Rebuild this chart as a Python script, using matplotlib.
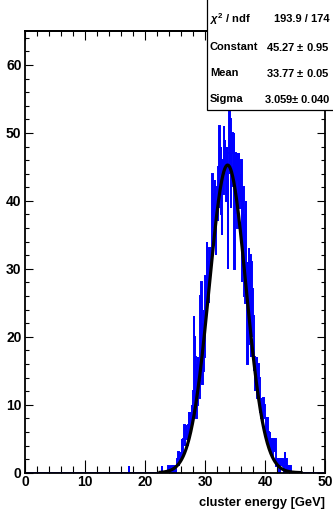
import numpy as np
import matplotlib
matplotlib.use("Agg")
import matplotlib.pyplot as plt
from matplotlib.patches import Rectangle
from matplotlib.ticker import NullFormatter

plt.rcParams['font.family'] = ['Liberation Sans', 'DejaVu Sans']
plt.rcParams['font.weight'] = 'bold'
plt.rcParams['mathtext.fontset'] = 'custom'
plt.rcParams['mathtext.rm'] = 'Liberation Sans:bold'
plt.rcParams['mathtext.it'] = 'Liberation Sans:bold:italic'
plt.rcParams['mathtext.bf'] = 'Liberation Sans:bold'

# histogram: 0.1 GeV bins, contents listed from 17.0 GeV on (one row = 1 GeV)
bin_width = 0.1
hist_start = 17.0
counts = [
    0, 0, 0, 1, 0, 0, 0, 0, 0, 0,            # 17
    0, 0, 0, 0, 0, 0, 0, 0, 0, 0,            # 18
    0, 0, 0, 0, 0, 0, 0, 0, 0, 0,            # 19
    0, 0, 0, 0, 0, 0, 0, 0, 0, 0,            # 20
    0, 0, 0, 0, 0, 0, 0, 0, 0, 0,            # 21
    0, 0, 0, 0, 0, 0, 0, 0, 1, 0,            # 22
    0, 0, 0, 0, 0, 0, 0, 0, 0, 1,            # 23
    0, 1, 0, 0, 1, 1, 0, 1, 0, 1,            # 24
    1, 0, 1, 1, 2, 3, 1, 2, 3, 2,            # 25
    2, 5, 3, 4, 5, 7, 4, 6, 7, 5,            # 26
    6, 4, 7, 9, 6, 8, 9, 7, 10, 9,           # 27
    12, 23, 20, 9, 17, 8, 16, 10, 17, 11,    # 28
    11, 18, 26, 14, 28, 13, 22, 15, 24, 17,  # 29
    29, 23, 26, 34, 27, 31, 25, 33, 28, 30,  # 30
    33, 38, 44, 36, 41, 35, 43, 38, 32, 40,  # 31
    42, 37, 45, 39, 51, 44, 48, 38, 35, 46,  # 32
    41, 51, 44, 49, 46, 40, 48, 43, 30, 47,  # 33
    56, 44, 52, 39, 47, 50, 42, 45, 50, 30,  # 34
    47, 38, 43, 47, 36, 41, 47, 39, 44, 40,  # 35
    46, 28, 40, 30, 42, 26, 38, 25, 40, 29,  # 36
    16, 31, 19, 33, 21, 32, 17, 31, 20, 27,  # 37
    23, 15, 17, 12, 16, 13, 17, 11, 15, 16,  # 38
    14, 12, 9, 11, 8, 10, 7, 11, 9, 10,      # 39
    8, 6, 7, 5, 8, 6, 4, 5, 6, 3,            # 40
    5, 3, 4, 2, 5, 4, 3, 5, 2, 1,            # 41
    2, 1, 2, 1, 0, 2, 1, 2, 1, 2,            # 42
    1, 2, 0, 3, 1, 2, 0, 1, 0, 1,            # 43
    1, 0, 1, 1, 0, 0, 0, 0, 0, 0,            # 44
]

# gaus fit result
fit_const, fit_const_err = 45.27, 0.95
fit_mean, fit_mean_err = 33.77, 0.05
fit_sigma, fit_sigma_err = 3.059, 0.040
chi2, ndf = 193.9, 174
fit_lo, fit_hi = 22.5, 46.0

x_major = [0, 10, 20, 30, 40, 50]
y_major = [0, 10, 20, 30, 40, 50, 60]

stat_labels = [r'$\chi^{2}$ / ndf', 'Constant', 'Mean', 'Sigma']
stat_values = [f'{chi2:.1f} / {ndf}',
               f'{fit_const:.2f} $\\pm$ {fit_const_err:.2f}',
               f'{fit_mean:.2f} $\\pm$ {fit_mean_err:.2f}',
               f'{fit_sigma:.3f}$\\pm$ {fit_sigma_err:.3f}']

W, H = 333, 511
fig = plt.figure(figsize=(W / 100, H / 100), dpi=100)
ax = fig.add_axes([25 / W, 1 - 472.7 / H, 300 / W, (472.7 - 31) / H])

edges = np.linspace(0, 50, 501)
full = np.zeros(500)
i0 = int(round(hist_start / bin_width))
full[i0:i0 + len(counts)] = counts
ax.stairs(full, edges, color='#0000ff', lw=1.4, zorder=2)

xf = np.linspace(fit_lo, fit_hi, 500)
ax.plot(xf, fit_const * np.exp(-0.5 * ((xf - fit_mean) / fit_sigma) ** 2),
        color='black', lw=2.3, zorder=3)

ax.set_xlim(0, 50)
ax.set_ylim(0, 65)
ax.set_xticks(x_major, labels=[str(v) for v in x_major],
              fontweight='bold', fontsize=10)
ax.set_xticks(np.arange(0, 51, 2), minor=True)
ax.set_yticks(y_major, labels=[str(v) for v in y_major],
              fontweight='bold', fontsize=10)
ax.set_yticks(np.arange(0, 65, 2), minor=True)
ax.tick_params(axis='x', which='major', direction='in', length=9.4, width=0.8,
               pad=1.5)
ax.tick_params(axis='x', which='minor', direction='in', length=4.8, width=0.8)
ax.tick_params(axis='y', which='major', direction='in', length=6.1, width=0.8,
               pad=2.5, right=True)
ax.tick_params(axis='y', which='minor', direction='in', length=3.1, width=0.8,
               right=True)

top = ax.secondary_xaxis('top')
top.set_xticks(x_major)
top.set_xticks(np.arange(0, 51, 2), minor=True)
top.xaxis.set_major_formatter(NullFormatter())
top.tick_params(which='major', direction='in', length=6.8, width=0.8)
top.tick_params(which='minor', direction='in', length=3.4, width=0.8)
top.spines['top'].set_linewidth(1.3)

for s in ax.spines.values():
    s.set_linewidth(1.3)
    s.set_zorder(4)

fig.text(325 / W, 1 - 503 / H, 'cluster energy [GeV]', ha='right',
         va='center', fontsize=9.3, fontweight='bold')

box = Rectangle((207 / W, 1 - 110 / H), (W - 207) / W + 0.01, 110 / H + 0.01,
                transform=fig.transFigure, facecolor='white', edgecolor='black',
                lw=0.9, zorder=10)
fig.add_artist(box)
rows_y = [19, 47, 73, 99]
for lab, val, yy in zip(stat_labels, stat_values, rows_y):
    fig.text(210 / W, 1 - yy / H, lab, ha='left', va='center', fontsize=8,
             fontweight='bold', zorder=11)
    fig.text(330 / W, 1 - yy / H, val, ha='right', va='center', fontsize=8,
             fontweight='bold', zorder=11)

fig.savefig('out.png', dpi=100)
